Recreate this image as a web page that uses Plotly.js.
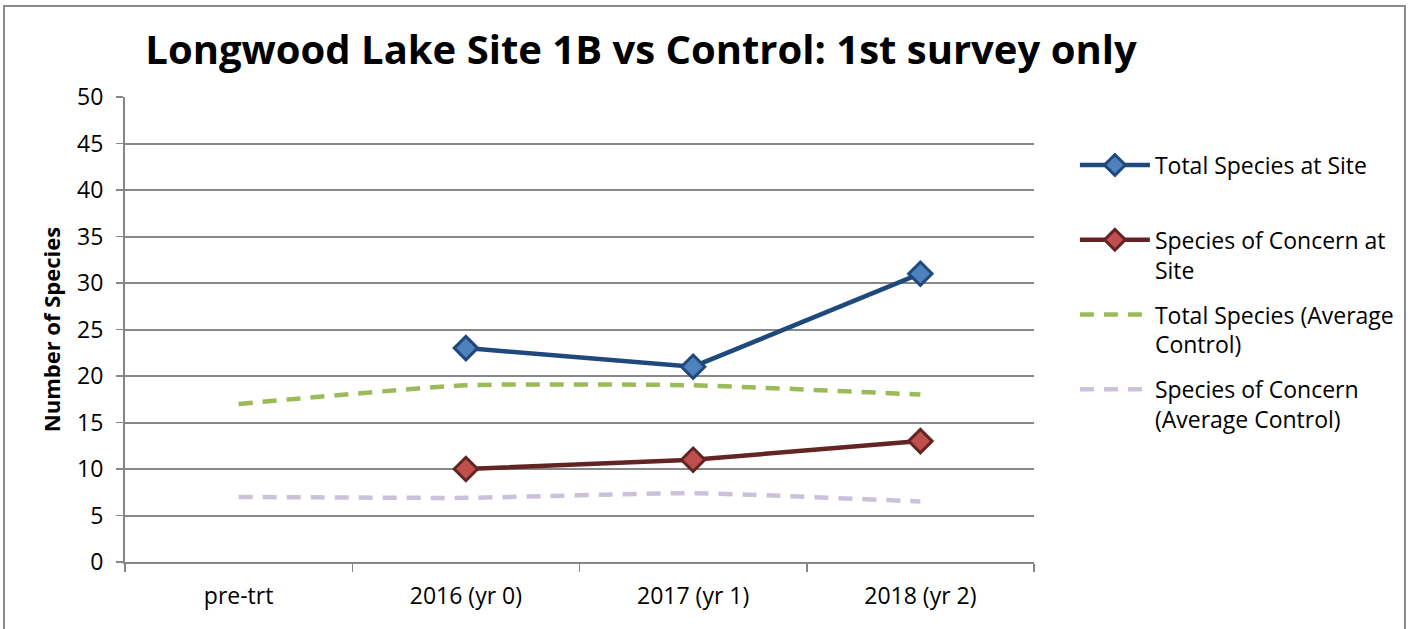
<!DOCTYPE html>
<html>
<head>
<meta charset="utf-8">
<script src="https://cdn.plot.ly/plotly-3.0.1.min.js"></script>
<style>
html,body{margin:0;padding:0;background:#fff;}
#wrap{position:relative;width:1415px;height:629px;overflow:hidden;}
#chart{width:1415px;height:629px;}
#frame{position:absolute;left:3px;top:5px;width:1403px;height:640px;border:2px solid #8a8a8a;pointer-events:none;box-sizing:border-box;}
</style>
</head>
<body>
<div id="wrap"><div id="chart"></div><div id="frame"></div></div>
<script>
const categories = ["pre-trt", "2016 (yr 0)", "2017 (yr 1)", "2018 (yr 2)"];
const totalSite = [null, 23, 21, 31];
const concernSite = [null, 10, 11, 13];
const totalControl = [17, 19, 19, 18];
const concernControl = [7, 6.9, 7.4, 6.5];
const seriesNames = [
  "Total Species at Site<br>\u00a0",
  "Species of Concern at<br>Site",
  "Total Species (Average<br>Control)",
  "Species of Concern<br>(Average Control)"
];

const font = "Open Sans, Lato, sans-serif";

const traces = [
  {x: categories, y: totalSite, name: seriesNames[0], legendgroup: "a", type: "scatter", mode: "lines+markers",
   line: {color: "#1F497D", width: 4.5},
   marker: {symbol: "diamond", size: 18, color: "#4F81BD", line: {color: "#1F497D", width: 3}}},
  {x: categories, y: concernSite, name: seriesNames[1], legendgroup: "b", type: "scatter", mode: "lines+markers",
   line: {color: "#632523", width: 4.5},
   marker: {symbol: "diamond", size: 18, color: "#C0504D", line: {color: "#632523", width: 3}}},
  {x: categories, y: totalControl, name: seriesNames[2], legendgroup: "c", type: "scatter", mode: "lines",
   line: {color: "#9BBB59", width: 4.5, dash: "14px,10px", shape: "spline", smoothing: 0.5}},
  {x: categories, y: concernControl, name: seriesNames[3], legendgroup: "d", type: "scatter", mode: "lines",
   line: {color: "#CCC1DA", width: 4.5, dash: "14px,10px", shape: "spline", smoothing: 0.5}}
];

const layout = {
  width: 1415, height: 629,
  margin: {l: 125, r: 381, t: 97, b: 67},
  paper_bgcolor: "#fff", plot_bgcolor: "#fff",
  showlegend: true,
  font: {family: font, color: "#000", size: 23},
  title: {text: "<b>Longwood Lake Site 1B vs Control: 1st survey only</b>",
          font: {family: font, size: 40, color: "#000"},
          x: 0.453, xref: "container", xanchor: "center", y: 0.92, yref: "container", yanchor: "middle"},
  xaxis: {
    type: "category", range: [-0.5, 3.5], tickson: "boundaries",
    ticks: "outside", ticklen: 8, tickwidth: 1.5, tickcolor: "#868686",
    showline: true, linecolor: "#868686", linewidth: 2,
    showgrid: false, zeroline: false,
    tickfont: {family: font, size: 23, color: "#000"}, ticklabelstandoff: 12
  },
  yaxis: {
    range: [0, 50], dtick: 5, tick0: 0,
    ticks: "outside", ticklen: 7, tickwidth: 1.5, tickcolor: "#868686",
    showline: true, linecolor: "#868686", linewidth: 2,
    showgrid: true, gridcolor: "#888888", gridwidth: 2, zeroline: false,
    tickfont: {family: font, size: 23, color: "#000"}, ticklabelstandoff: 8,
    title: {text: "<b>Number of Species</b>", font: {family: font, size: 22, color: "#000"}, standoff: 10}
  },
  legend: {
    x: 1.045, xanchor: "left", y: 0.9, yanchor: "top",
    font: {family: font, size: 23, color: "#000"},
    valign: "top", itemwidth: 70, tracegroupgap: 12,
    bgcolor: "rgba(0,0,0,0)"
  }
};

Plotly.newPlot("chart", traces, layout, {displayModeBar: false, staticPlot: true});
</script>
</body>
</html>
